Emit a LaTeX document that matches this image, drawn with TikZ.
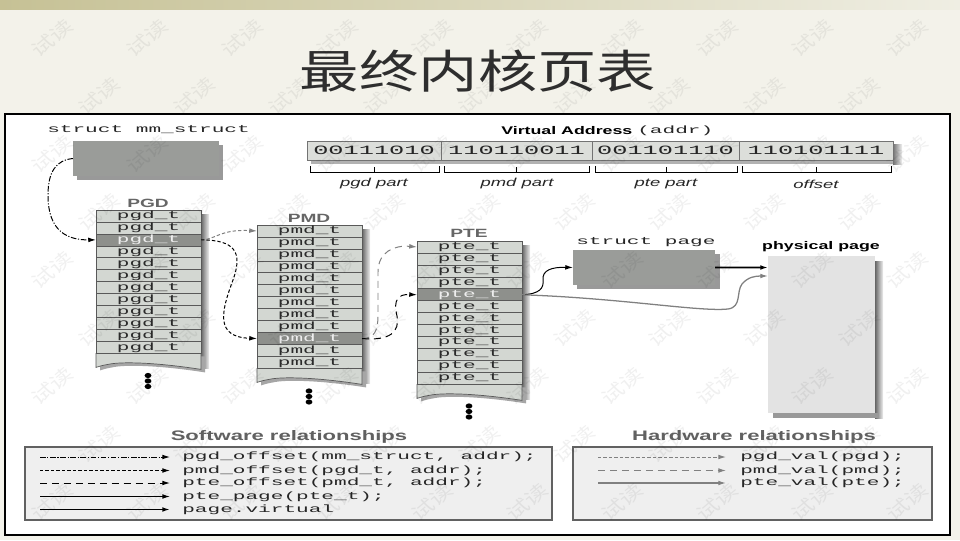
\documentclass[tikz,border=0pt]{standalone}
\usepackage{fontspec}
\usetikzlibrary{arrows.meta,calc}
\setmainfont{Liberation Sans}
\newfontfamily\cjkf[FakeStretch=1.3]{Noto Sans CJK SC}
\newfontfamily\wmf[FakeStretch=1.3]{Noto Sans CJK SC}
\newfontfamily\monof[FakeStretch=2.0]{Liberation Mono}
\newfontfamily\bitf[FakeStretch=2.0]{Liberation Mono}
\newfontfamily\sansf[FakeStretch=1.6]{Liberation Sans}
\definecolor{bg}{HTML}{F3F2EA}
\definecolor{band1}{HTML}{C6C195}
\definecolor{band2}{HTML}{EFEEE3}
\definecolor{rowfill}{HTML}{D3D7D2}
\definecolor{rowdark}{HTML}{8E908C}
\definecolor{rowtxt}{HTML}{2A2A2A}
\definecolor{rowtxtl}{HTML}{EEEEEE}
\definecolor{boxgray}{HTML}{9A9C99}
\definecolor{pagefill}{HTML}{E3E3E3}
\definecolor{bitfill}{HTML}{DCDEDA}
\definecolor{legfill}{HTML}{EFEFEF}
\definecolor{titlec}{HTML}{2E2E2E}
\tikzset{
  mono/.style={font=\monof\fontsize{7.5}{9}\selectfont, inner sep=0pt, text=black!85},
  rowbox/.style={draw=black!65, line width=0.5pt, minimum width=2.625cm, minimum height=0.29875cm,
    inner sep=0pt, outer sep=0pt, font=\monof\fontsize{7.5}{9}\selectfont},
  tablab/.style={font=\sansf\bfseries\fontsize{8.5}{10}\selectfont, text=black!60, inner sep=0pt},
  partlab/.style={font=\sansf\itshape\fontsize{8.2}{10}\selectfont, text=black!85, inner sep=0pt},
  bitseg/.style={draw=black!55, line width=0.5pt, fill=bitfill, minimum height=0.475cm, inner sep=0pt,
    outer sep=0pt, font=\bitf\fontsize{9}{10}\selectfont, text=black!85},
  legtitle/.style={font=\sansf\bfseries\fontsize{9.8}{11}\selectfont, text=black!62, inner sep=0pt},
  legbox/.style={draw=black!62, line width=1.1pt, fill=legfill},
  conntip/.style={-{Latex[length=5.5pt,width=3.4pt]}},
  pgdoff/.style={conntip, line width=0.7pt, dash pattern=on 4pt off 1.2pt on 0.8pt off 1.2pt},
  pmdoff/.style={conntip, line width=0.7pt, dash pattern=on 2.4pt off 1.5pt},
  pteoff/.style={conntip, line width=0.7pt, dash pattern=on 5pt off 3.5pt},
  ptepage/.style={conntip, line width=0.7pt},
  pagevirt/.style={conntip, line width=1.1pt},
  pgdval/.style={conntip, black!50, line width=0.7pt, dash pattern=on 2.4pt off 1.5pt},
  pmdval/.style={conntip, black!50, line width=0.7pt, dash pattern=on 5pt off 3.5pt},
  pteval/.style={conntip, black!50, line width=0.9pt},
  wm/.style={font=\wmf\fontsize{13}{13}\selectfont, text=black, opacity=0.06, rotate=40, inner sep=0pt},
}
% #1 prefix, #2 left x, #3 top y, #4 highlighted row, #5 entry text
\newcommand\ptable[5]{%
  \pgfmathsetmacro\yb{#3+12*11.95}%
  \shade[left color=black!60, right color=black!6] ({#2+105},{#3+4}) rectangle ({#2+113},{\yb+15});
  \begin{scope}[shift={(4,3)}]
    \fill[black!35] (#2,\yb) -- ({#2+105},\yb) -- ({#2+105},{\yb+16}) .. controls ({#2+60},{\yb+9}) and ({#2+25},{\yb+8}) .. ({#2+12},{\yb+11}) .. controls ({#2+6},{\yb+12}) and ({#2+3},{\yb+13}) .. (#2,{\yb+14}) -- cycle;
  \end{scope}
  \filldraw[fill=rowfill, draw=black!65, line width=0.5pt] (#2,\yb) -- ({#2+105},\yb) -- ({#2+105},{\yb+16}) .. controls ({#2+60},{\yb+9}) and ({#2+25},{\yb+8}) .. ({#2+12},{\yb+11}) .. controls ({#2+6},{\yb+12}) and ({#2+3},{\yb+13}) .. (#2,{\yb+14}) -- cycle;
  \foreach \i in {1,...,12}{%
    \ifnum\i=#4\relax\def\rc{rowdark}\def\tc{rowtxtl}\else\def\rc{rowfill}\def\tc{rowtxt}\fi
    \node[rowbox, fill=\rc, text=\tc] (#1\i) at ({#2+52.5},{#3+(\i-0.5)*11.95}) {#5};
  }%
}
\begin{document}
\begin{tikzpicture}[x=0.025cm, y=-0.025cm]
\useasboundingbox (0,0) rectangle (960,540);
\fill[bg] (0,0) rectangle (960,540);
\shade[left color=band1, right color=band2] (0,0) rectangle (960,9);

% title
\node[font=\cjkf\fontsize{32.5}{36}\selectfont, text=titlec, inner sep=0pt] (title) at (478,71) {最终内核页表};

% frame
\draw[line width=1.6pt, fill=white] (5,114) rectangle (950,535);

% mm_struct
\node[mono, anchor=west] (mmlab) at (47,130) {struct mm\_struct};
\fill[black!40] (77,145) rectangle (223,180);
\node[fill=boxgray, minimum width=3.65cm, minimum height=0.875cm, inner sep=0pt, outer sep=0pt, anchor=north west] (mm) at (73,141) {};

% virtual address
\node[font=\sansf\bfseries\fontsize{7.9}{10}\selectfont, anchor=west, inner sep=0pt] (valab) at (501,131) {Virtual Address};
\node[mono, anchor=west] (addrlab) at (637,131) {(addr)};
\shade[left color=black!55, right color=black!5] (893,144) rectangle (902,164);
\fill[black!30] (311,160) rectangle (893,164);
\node[bitseg, minimum width=3.35cm, anchor=north west] (b1) at (307,141) {00111010};
\node[bitseg, minimum width=3.775cm, anchor=north west] (b2) at (441,141) {110110011};
\node[bitseg, minimum width=3.675cm, anchor=north west] (b3) at (592,141) {001101110};
\node[bitseg, minimum width=3.85cm, anchor=north west] (b4) at (739,141) {110101111};
\foreach \a/\b in {310/439, 444/589, 595/737, 742/891}{
  \draw[line width=0.6pt] (\a,166) -- (\a,172) -- (\b,172) -- (\b,166);
  \draw[line width=0.6pt] ({(\a+\b)/2},167) -- ({(\a+\b)/2},172);
}
\node[partlab] (pgdpart) at (374,184) {pgd part};
\node[partlab] (pmdpart) at (517,184) {pmd part};
\node[partlab] (ptepart) at (666,184) {pte part};
\node[partlab] (offpart) at (816,184) {offset};

% tables
\node[tablab] (pgdlab) at (148,203) {PGD};
\node[tablab] (pmdlab) at (309,218) {PMD};
\node[tablab] (ptelab) at (469,233) {PTE};
\ptable{pgd}{96}{210}{3}{pgd\_t}
\ptable{pmd}{257}{225}{10}{pmd\_t}
\ptable{pte}{417}{241}{5}{pte\_t}
\foreach \cx/\cy in {148/375.5, 309/391, 469/406}{
  \foreach \k in {0,1,2}{
    \fill[black] (\cx,{\cy+\k*5.5}) ellipse [x radius=0.085cm, y radius=0.065cm];
  }
}

% struct page and physical page
\node[mono, anchor=west] (splab) at (576,242) {struct page};
\fill[black!40] (577,254) rectangle (720,289);
\node[fill=boxgray, minimum width=3.55cm, minimum height=0.875cm, inner sep=0pt, outer sep=0pt, anchor=north west] (sp) at (573,250) {};
\node[font=\sansf\bfseries\fontsize{7.9}{10}\selectfont, inner sep=0pt] (phlab) at (821,247) {physical page};
\shade[left color=black!60, right color=black!6] (875,261) rectangle (883,418);
\fill[black!40] (773,413) rectangle (878,418);
\node[fill=pagefill, minimum width=2.675cm, minimum height=3.925cm, inner sep=0pt, outer sep=0pt, anchor=north west] (phys) at (768,256) {};

% connectors
\draw[pgdoff] (mm.west) .. controls (56,160) and (48,172) .. (48,195) .. controls (48,232) and (68,240) .. (pgd3.west);
\draw[pgdval] (pgd3.east) .. controls (215,240) and (220,229) .. (pmd1.west);
\draw[pmdoff] (pgd3.east) .. controls (235,240) and (243,252) .. (233,280) .. controls (221,312) and (215,337) .. (pmd10.west);
\draw[pmdval] (pmd10.east) .. controls (374,338) and (378,332) .. (378,315) -- (378,272) .. controls (378,252) and (394,245) .. (pte1.west);
\draw[pteoff] (pmd10.east) .. controls (390,341) and (400,332) .. (397,316) .. controls (393,300) and (398,294) .. (pte5.west);
\draw[ptepage] (pte5.east) .. controls (540,294) and (544,288) .. (543,280) .. controls (542,270) and (552,267) .. (sp.west);
\draw[pteval] (pte5.east) .. controls (620,298) and (700,312) .. (728,309) .. controls (742,307) and (736,292) .. (742,284) .. controls (748,277) and (755,276) .. ($(phys.north west)+(0,20)$);
\draw[pagevirt] (sp.east) -- ($(phys.north west)+(0,11.5)$);

% software legend
\node[legtitle] (swt) at (289,437) {Software relationships};
\draw[legbox] (25,447) rectangle (552,520);
\node[mono, anchor=west] (sw1) at (182,457) {pgd\_offset(mm\_struct, addr);};
\node[mono, anchor=west] (sw2) at (182,470.5) {pmd\_offset(pgd\_t, addr);};
\node[mono, anchor=west] (sw3) at (182,483) {pte\_offset(pmd\_t, addr);};
\node[mono, anchor=west] (sw4) at (182,496.5) {pte\_page(pte\_t);};
\node[mono, anchor=west] (sw5) at (182,509.5) {page.virtual};
\foreach \n/\yy in {1/457, 2/470.5, 3/483, 4/496.5, 5/509.5}{
  \coordinate (ss\n) at (40,\yy);
  \coordinate (se\n) at (170,\yy);
}
\draw[pgdoff] (ss1) -- (se1);
\draw[pmdoff] (ss2) -- (se2);
\draw[pteoff] (ss3) -- (se3);
\draw[ptepage] (ss4) -- (se4);
\draw[pagevirt] (ss5) -- (se5);

% hardware legend
\node[legtitle] (hwt) at (754,437) {Hardware relationships};
\draw[legbox] (573,447) rectangle (932,520);
\node[mono, anchor=west] (hw1) at (740,457) {pgd\_val(pgd);};
\node[mono, anchor=west] (hw2) at (740,470.5) {pmd\_val(pmd);};
\node[mono, anchor=west] (hw3) at (740,483) {pte\_val(pte);};
\foreach \n/\yy in {1/457, 2/470.5, 3/483}{
  \coordinate (hs\n) at (598,\yy);
  \coordinate (he\n) at (726,\yy);
}
\draw[pgdval] (hs1) -- (he1);
\draw[pmdval] (hs2) -- (he2);
\draw[pteval] (hs3) -- (he3);

% watermarks
\foreach \r in {0,...,8}{
  \foreach \c in {0,...,9}{
    \pgfmathsetmacro\wx{52+95*\c+mod(\r,2)*47}
    \pgfmathsetmacro\wy{38+58*\r}
    \ifdim\wx pt<935pt
      \node[wm] (wm-\r-\c) at (\wx,\wy) {试读};
    \fi
  }
}
\end{tikzpicture}
\end{document}
